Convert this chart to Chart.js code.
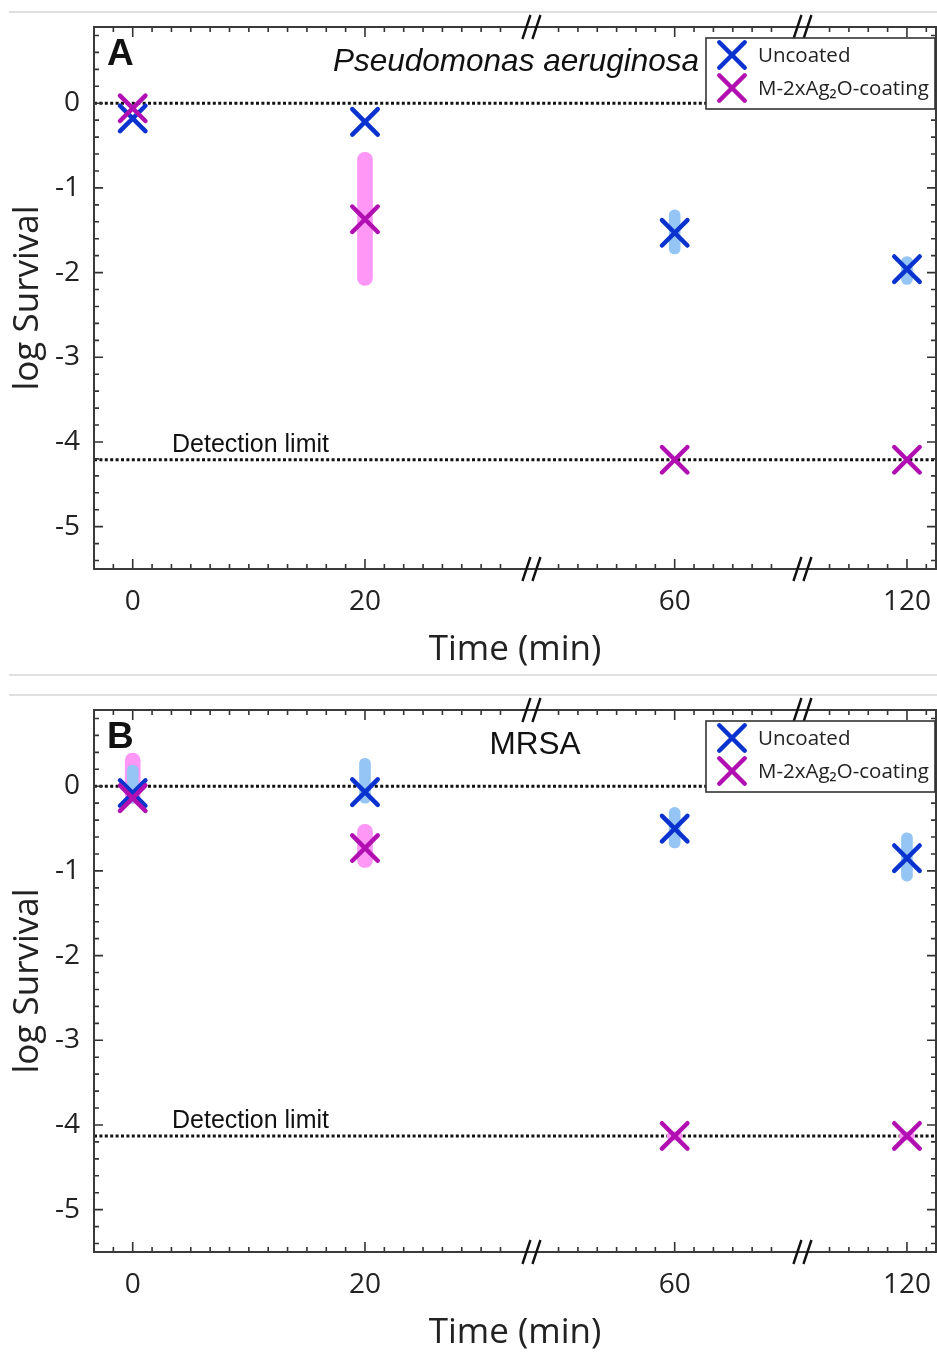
<!DOCTYPE html>
<html>
<head>
<meta charset="utf-8">
<script src="https://cdn.jsdelivr.net/npm/chart.js@4.4.0/dist/chart.umd.min.js"></script>
<style>
  html, body { margin: 0; padding: 0; background: #fff; overflow: hidden; }
  #wrap { position: relative; width: 937px; height: 1353px; overflow: hidden; }
  .panel { position: absolute; left: 0; width: 937px; height: 683px; }
</style>
</head>
<body>
<div id="wrap">
  <div class="panel" style="top:0"><canvas id="chartA" width="937" height="683"></canvas></div>
  <div class="panel" style="top:683px"><canvas id="chartB" width="937" height="683"></canvas></div>
</div>
<script>
// time points and where they sit on the broken x axis (in tick steps)
var timeLabels = ['0', '20', '60', '120'];
var timePos = [2, 14, 30, 42];
var breakPos = [22.6, 36.6];
var yTicks = [0, -1, -2, -3, -4, -5];

// panel A - Pseudomonas aeruginosa
var uncoatedA = [-0.18, -0.22, -1.53, -1.96];
var uncoatedA_low = [null, null, -1.78, -2.14];
var uncoatedA_high = [null, null, -1.26, -1.81];
var coatedA = [-0.06, -1.37, -4.21, -4.21];
var coatedA_low = [null, -2.15, null, null];
var coatedA_high = [null, -0.58, null, null];
var limitA = -4.21;

// panel B - MRSA
var uncoatedB = [-0.08, -0.07, -0.50, -0.85];
var uncoatedB_low = [-0.2, -0.2, -0.73, -1.12];
var uncoatedB_high = [0.25, 0.33, -0.25, -0.55];
var coatedB = [-0.14, -0.73, -4.13, -4.13];
var coatedB_low = [-0.2, -0.96, -4.18, -4.18];
var coatedB_high = [0.39, -0.45, -4.08, -4.08];
var limitB = -4.13;

var blue = '#0a32cf';
var magenta = '#b10fb1';
var lightBlue = '#95c5f4';
var pink = '#ff97f7';

Chart.defaults.font.family = '"Open Sans", sans-serif';

var decoPlugin = {
  id: 'deco',
  beforeDatasetsDraw: function (chart, args, o) {
    var ctx = chart.ctx, a = chart.chartArea, y = chart.scales.y;
    ctx.save();
    // light separator lines of the figure
    ctx.strokeStyle = '#d6d6d6';
    ctx.lineWidth = 1.5;
    [12, 675].forEach(function (yy) {
      ctx.beginPath(); ctx.moveTo(9, yy); ctx.lineTo(chart.width, yy); ctx.stroke();
    });
    // dotted lines: 0 and detection limit
    ctx.strokeStyle = '#111';
    ctx.lineWidth = 3;
    ctx.setLineDash([3, 2.4]);
    [0, o.limit].forEach(function (v) {
      var py = y.getPixelForValue(v);
      ctx.beginPath(); ctx.moveTo(a.left, py); ctx.lineTo(a.right, py); ctx.stroke();
    });
    ctx.setLineDash([]);
    ctx.fillStyle = '#111';
    ctx.textBaseline = 'alphabetic';
    ctx.textAlign = 'left';
    ctx.font = 'bold 37px "Liberation Sans", Arial, sans-serif';
    ctx.fillText(o.letter, 107, 65);
    ctx.font = (o.italic ? 'italic ' : '') + '31.5px "Liberation Sans", Arial, sans-serif';
    ctx.textAlign = o.titleAlign;
    ctx.fillText(o.title, o.titleX, 71);
    ctx.font = '25px "Liberation Sans", Arial, sans-serif';
    ctx.textAlign = 'left';
    ctx.fillText('Detection limit', 172, y.getPixelForValue(o.limit) - 8);
    ctx.restore();
    ctx.lineCap = 'round';
  },
  afterDatasetsDraw: function (chart, args, o) {
    var ctx = chart.ctx, a = chart.chartArea, x = chart.scales.x, y = chart.scales.y;
    ctx.save();
    ctx.lineCap = 'butt';
    ctx.strokeStyle = '#333';
    ctx.lineWidth = 1.6;
    // inward ticks on x (bottom and top)
    for (var t = Math.ceil(x.min); t <= x.max; t++) {
      if (breakPos.some(function (b) { return Math.abs(b - t) < 0.65; })) continue;
      var len = timePos.indexOf(t) >= 0 ? 10 : 5;
      var px = x.getPixelForValue(t);
      ctx.beginPath();
      ctx.moveTo(px, a.bottom); ctx.lineTo(px, a.bottom - len);
      ctx.moveTo(px, a.top); ctx.lineTo(px, a.top + len);
      ctx.stroke();
    }
    // inward ticks on y (left and right), minor every 0.2
    for (var k = Math.ceil(y.min * 5); k <= Math.floor(y.max * 5); k++) {
      var ylen = (k % 5 === 0) ? 9 : 5;
      var py = y.getPixelForValue(k / 5);
      ctx.beginPath();
      ctx.moveTo(a.left, py); ctx.lineTo(a.left + ylen, py);
      ctx.moveTo(a.right, py); ctx.lineTo(a.right - ylen, py);
      ctx.stroke();
    }
    // frame
    ctx.lineWidth = 2;
    ctx.strokeStyle = '#3a3a3a';
    ctx.strokeRect(a.left, a.top, a.right - a.left, a.bottom - a.top);
    // axis break marks
    ctx.lineWidth = 2.4;
    ctx.strokeStyle = '#111';
    breakPos.forEach(function (b) {
      var bx = x.getPixelForValue(b);
      [a.top, a.bottom].forEach(function (by) {
        [-5, 5].forEach(function (dx) {
          ctx.beginPath();
          ctx.moveTo(bx + dx - 4, by + 12);
          ctx.lineTo(bx + dx + 4, by - 12);
          ctx.stroke();
        });
      });
    });
    // legend box
    var lx = 706, ly = a.top + 11, lw = 229, lh = 71;
    ctx.fillStyle = '#fff';
    ctx.fillRect(lx, ly, lw, lh);
    ctx.strokeStyle = '#333';
    ctx.lineWidth = 1.6;
    ctx.strokeRect(lx, ly, lw, lh);
    var items = chart.data.datasets.filter(function (d) { return d.type !== 'bar'; });
    items.forEach(function (ds, i) {
      var cy = ly + 17 + i * 33;
      ctx.lineCap = 'round';
      ctx.strokeStyle = ds.pointBorderColor;
      ctx.lineWidth = ds.pointBorderWidth;
      Chart.helpers.drawPoint(ctx, { pointStyle: 'crossRot', radius: ds.pointRadius, borderWidth: ds.pointBorderWidth, rotation: 0 }, lx + 26, cy);
      ctx.fillStyle = '#222';
      ctx.font = '20.5px "Open Sans", sans-serif';
      ctx.textAlign = 'left';
      ctx.textBaseline = 'middle';
      ctx.fillText(ds.label, lx + 52, cy + 1);
    });
    ctx.restore();
  }
};

function makePanel(id, un, unLow, unHigh, co, coLow, coHigh, deco) {
  function pts(vals) {
    return vals.map(function (v, i) { return { x: timePos[i], y: v }; });
  }
  function bars(low, high) {
    var out = [];
    low.forEach(function (l, i) {
      if (l !== null) out.push({ x: timePos[i], y: [l, high[i]] });
    });
    return out;
  }
  return new Chart(document.getElementById(id), {
    type: 'scatter',
    data: {
      datasets: [
        { type: 'bar', label: 'coated error', data: bars(coLow, coHigh), backgroundColor: pink,
          barThickness: 15, borderRadius: 8, borderSkipped: false, grouped: false, order: 4 },
        { type: 'bar', label: 'uncoated error', data: bars(unLow, unHigh), backgroundColor: lightBlue,
          barThickness: 11, borderRadius: 6, borderSkipped: false, grouped: false, order: 3 },
        { label: 'Uncoated', data: pts(un), pointStyle: 'crossRot', pointRadius: 18,
          pointBorderColor: blue, pointBackgroundColor: blue, pointBorderWidth: 4.5, order: 2 },
        { label: 'M-2xAg₂O-coating', data: pts(co), pointStyle: 'crossRot', pointRadius: 18,
          pointBorderColor: magenta, pointBackgroundColor: magenta, pointBorderWidth: 4.5, order: 1 }
      ]
    },
    options: {
      responsive: false,
      animation: false,
      events: [],
      layout: { autoPadding: false, padding: { top: 27, right: 1, left: 0, bottom: 0 } },
      plugins: { legend: { display: false }, tooltip: { enabled: false }, deco: deco },
      scales: {
        x: {
          type: 'linear', min: 0, max: 43.5, offset: false,
          grid: { display: false, drawTicks: false, offset: false }, border: { display: false },
          afterBuildTicks: function (s) { s.ticks = timePos.map(function (v) { return { value: v }; }); },
          afterFit: function (s) { s.height = 114; s.paddingLeft = 0; s.paddingRight = 0; },
          ticks: {
            padding: 16, color: '#222', font: { size: 28 }, maxRotation: 0, autoSkip: false,
            callback: function (v) { return timeLabels[timePos.indexOf(v)]; }
          },
          title: { display: true, text: 'Time (min)', color: '#222', font: { size: 35 }, padding: { top: 0, bottom: 12 } }
        },
        y: {
          type: 'linear', min: -5.5, max: 0.9,
          grid: { display: false, drawTicks: false }, border: { display: false },
          afterBuildTicks: function (s) { s.ticks = yTicks.map(function (v) { return { value: v }; }); },
          afterFit: function (s) { s.width = 94; s.paddingTop = 0; s.paddingBottom = 0; },
          ticks: { padding: 14, color: '#222', font: { size: 28 }, callback: function (v) { return String(v); } },
          title: { display: true, text: 'log Survival', color: '#222', font: { size: 35 }, padding: { top: 7, bottom: 0 } }
        }
      }
    },
    plugins: [decoPlugin]
  });
}

makePanel('chartA', uncoatedA, uncoatedA_low, uncoatedA_high, coatedA, coatedA_low, coatedA_high,
  { letter: 'A', title: 'Pseudomonas aeruginosa', italic: true, titleAlign: 'left', titleX: 333, limit: limitA });
makePanel('chartB', uncoatedB, uncoatedB_low, uncoatedB_high, coatedB, coatedB_low, coatedB_high,
  { letter: 'B', title: 'MRSA', italic: false, titleAlign: 'center', titleX: 535, limit: limitB });
</script>
</body>
</html>
